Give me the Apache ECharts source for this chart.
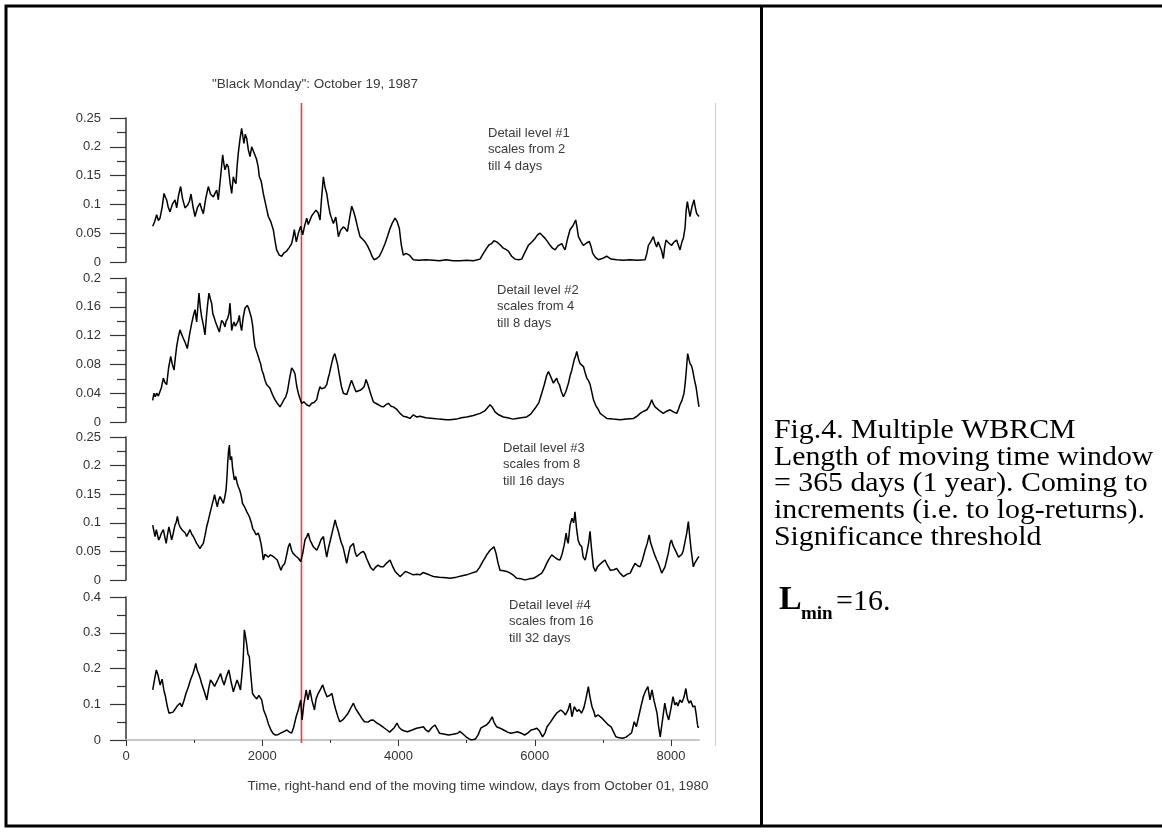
<!DOCTYPE html>
<html>
<head>
<meta charset="utf-8">
<title>Multiple WBRCM</title>
<script src="https://cdn.jsdelivr.net/npm/echarts@6/dist/echarts.min.js"></script>
<style>
html, body { margin: 0; padding: 0; background: #ffffff; }
#chart { width: 1162px; height: 832px; }
</style>
</head>
<body>
<div id="chart"></div>
<script>
// Day of the "Black Monday" crash, counted from October 01, 1980
const blackMondayDay = 2575;

// Detail level #1 (scales 2..4 days)
const level1Days = [392,420,450,475,499,530,558,580,597,620,646,680,719,744,770,802,830,866,900,930,954,985,1013,1050,1086,1110,1135,1170,1208,1240,1282,1310,1331,1355,1390,1419,1440,1453,1480,1502,1530,1551,1575,1595,1614,1630,1648,1675,1697,1715,1731,1750,1771,1795,1820,1845,1868,1895,1917,1940,1957,1985,2015,2050,2089,2125,2162,2190,2211,2250,2285,2320,2358,2395,2431,2455,2470,2500,2530,2564,2593,2620,2652,2675,2700,2725,2750,2789,2820,2848,2870,2897,2920,2946,2970,2995,3020,3044,3079,3100,3117,3150,3190,3220,3250,3280,3313,3340,3362,3400,3435,3470,3508,3545,3582,3610,3640,3680,3718,3760,3802,3840,3875,3910,3949,3980,4012,4040,4070,4110,4158,4217,4300,4400,4511,4600,4700,4800,4903,5000,5100,5196,5245,5294,5330,5367,5400,5440,5490,5538,5575,5612,5660,5710,5760,5808,5860,5906,5950,6004,6040,6077,6110,6151,6190,6224,6260,6298,6340,6396,6420,6445,6480,6517,6560,6600,6620,6640,6680,6713,6760,6800,6830,6850,6890,6933,6990,7055,7120,7202,7300,7400,7500,7618,7645,7667,7700,7740,7765,7789,7810,7838,7860,7887,7905,7926,7965,8009,8045,8082,8105,8131,8160,8180,8205,8222,8239,8260,8278,8305,8337,8355,8376,8395,8410];
const level1Values = [0.062,0.070,0.082,0.072,0.076,0.095,0.119,0.112,0.108,0.095,0.087,0.100,0.108,0.094,0.115,0.131,0.110,0.094,0.098,0.105,0.118,0.095,0.079,0.095,0.102,0.092,0.084,0.110,0.131,0.118,0.113,0.120,0.125,0.108,0.150,0.186,0.168,0.160,0.170,0.165,0.135,0.119,0.148,0.140,0.136,0.165,0.189,0.215,0.232,0.218,0.206,0.222,0.215,0.195,0.183,0.200,0.197,0.185,0.178,0.165,0.148,0.140,0.119,0.100,0.079,0.070,0.056,0.035,0.021,0.012,0.010,0.016,0.019,0.025,0.032,0.045,0.056,0.035,0.050,0.062,0.047,0.062,0.076,0.065,0.067,0.080,0.079,0.090,0.085,0.073,0.110,0.148,0.130,0.119,0.100,0.084,0.075,0.067,0.078,0.060,0.044,0.055,0.061,0.058,0.053,0.075,0.097,0.088,0.079,0.060,0.044,0.040,0.035,0.028,0.019,0.010,0.004,0.006,0.010,0.020,0.032,0.045,0.058,0.068,0.076,0.070,0.058,0.030,0.012,0.015,0.012,0.004,0.003,0.004,0.003,0.002,0.004,0.002,0.002,0.003,0.002,0.005,0.015,0.024,0.030,0.032,0.037,0.035,0.030,0.024,0.022,0.019,0.010,0.005,0.004,0.005,0.018,0.029,0.034,0.041,0.047,0.050,0.046,0.041,0.035,0.029,0.024,0.021,0.028,0.032,0.026,0.021,0.040,0.056,0.063,0.073,0.060,0.044,0.035,0.029,0.033,0.036,0.025,0.015,0.008,0.004,0.006,0.010,0.005,0.004,0.003,0.004,0.003,0.004,0.015,0.029,0.035,0.044,0.033,0.026,0.035,0.038,0.020,0.006,0.025,0.038,0.033,0.029,0.035,0.038,0.030,0.021,0.035,0.041,0.059,0.090,0.105,0.090,0.079,0.095,0.108,0.095,0.084,0.085,0.079];

// Detail level #2 (scales 4..8 days)
const level2Days = [392,410,430,450,475,499,520,548,570,597,625,656,680,705,725,744,768,793,815,842,870,900,930,964,990,1013,1037,1055,1071,1090,1110,1135,1159,1184,1200,1218,1240,1257,1275,1291,1310,1331,1350,1370,1390,1404,1430,1453,1470,1492,1510,1526,1540,1551,1570,1585,1605,1624,1645,1663,1680,1697,1720,1746,1765,1780,1800,1820,1840,1859,1875,1893,1918,1942,1960,1976,1995,2015,2040,2064,2090,2113,2150,2186,2220,2260,2290,2319,2345,2368,2400,2431,2455,2480,2505,2529,2555,2578,2610,2652,2690,2725,2760,2799,2825,2848,2870,2897,2920,2946,2965,2985,3015,3044,3065,3083,3105,3132,3160,3190,3215,3239,3265,3288,3310,3327,3350,3376,3405,3435,3465,3494,3510,3523,3550,3582,3605,3630,3665,3704,3740,3777,3815,3851,3890,3924,3970,4022,4070,4119,4168,4217,4265,4315,4400,4511,4600,4700,4756,4850,4920,5000,5100,5196,5260,5300,5343,5380,5416,5470,5538,5600,5680,5734,5800,5881,5940,6004,6028,6060,6102,6140,6175,6200,6225,6249,6273,6300,6322,6340,6361,6390,6420,6455,6494,6520,6543,6577,6600,6616,6640,6665,6690,6714,6740,6763,6790,6812,6840,6861,6900,6934,6959,7000,7057,7150,7253,7350,7449,7500,7547,7600,7645,7680,7716,7740,7765,7789,7840,7887,7935,7985,8035,8083,8110,8131,8160,8190,8205,8220,8235,8244,8260,8278,8300,8317,8340,8366,8395,8410];
const level2Values = [0.030,0.040,0.035,0.040,0.036,0.038,0.048,0.061,0.055,0.052,0.075,0.091,0.080,0.072,0.090,0.105,0.118,0.128,0.122,0.116,0.110,0.102,0.120,0.137,0.148,0.156,0.139,0.160,0.179,0.160,0.146,0.135,0.121,0.150,0.165,0.179,0.170,0.165,0.150,0.146,0.140,0.139,0.130,0.125,0.135,0.141,0.138,0.132,0.140,0.144,0.150,0.165,0.145,0.127,0.135,0.139,0.133,0.132,0.140,0.148,0.135,0.127,0.145,0.158,0.160,0.162,0.158,0.156,0.145,0.134,0.118,0.105,0.098,0.091,0.085,0.081,0.072,0.067,0.058,0.052,0.050,0.047,0.038,0.031,0.026,0.021,0.026,0.031,0.035,0.042,0.060,0.075,0.072,0.067,0.050,0.040,0.032,0.026,0.028,0.024,0.022,0.026,0.027,0.031,0.042,0.049,0.046,0.044,0.048,0.052,0.060,0.067,0.080,0.091,0.095,0.093,0.080,0.065,0.050,0.040,0.042,0.038,0.045,0.052,0.058,0.056,0.048,0.042,0.040,0.044,0.046,0.049,0.054,0.059,0.052,0.042,0.035,0.028,0.026,0.024,0.022,0.021,0.024,0.026,0.022,0.021,0.018,0.012,0.008,0.007,0.005,0.010,0.007,0.008,0.006,0.005,0.004,0.003,0.003,0.004,0.006,0.007,0.009,0.012,0.015,0.019,0.024,0.020,0.014,0.010,0.007,0.006,0.004,0.005,0.006,0.007,0.011,0.019,0.021,0.027,0.040,0.052,0.065,0.070,0.065,0.067,0.054,0.058,0.061,0.055,0.052,0.042,0.035,0.042,0.054,0.065,0.072,0.086,0.092,0.098,0.088,0.081,0.083,0.077,0.068,0.061,0.057,0.052,0.040,0.031,0.022,0.017,0.012,0.009,0.005,0.004,0.003,0.004,0.005,0.008,0.012,0.015,0.017,0.022,0.031,0.025,0.021,0.021,0.015,0.012,0.015,0.017,0.014,0.012,0.018,0.024,0.030,0.040,0.052,0.067,0.085,0.095,0.088,0.081,0.078,0.072,0.060,0.049,0.030,0.021];

// Detail level #3 (scales 8..16 days)
const level3Days = [392,410,426,445,460,480,500,520,548,570,590,610,630,650,670,690,719,735,754,775,793,820,845,870,891,915,940,965,989,1013,1037,1060,1086,1110,1135,1160,1184,1210,1233,1260,1282,1300,1320,1340,1360,1380,1405,1429,1450,1468,1482,1492,1505,1517,1530,1550,1565,1590,1610,1630,1648,1670,1690,1710,1740,1770,1810,1840,1860,1885,1908,1940,1960,1981,2000,2015,2040,2060,2090,2120,2162,2190,2220,2250,2274,2300,2330,2360,2382,2405,2430,2450,2490,2530,2564,2595,2627,2650,2676,2700,2725,2750,2775,2800,2830,2860,2897,2920,2946,2970,3000,3030,3050,3069,3090,3110,3135,3160,3185,3210,3239,3265,3290,3315,3337,3360,3385,3420,3450,3484,3510,3530,3560,3590,3630,3660,3700,3740,3777,3830,3875,3920,3950,3990,4022,4060,4100,4119,4160,4217,4270,4315,4360,4388,4430,4470,4511,4600,4700,4756,4850,4920,5000,5070,5147,5190,5235,5265,5294,5320,5343,5370,5401,5430,5460,5489,5540,5587,5640,5690,5734,5800,5857,5920,5979,6040,6102,6140,6175,6210,6249,6280,6310,6340,6370,6400,6430,6444,6460,6475,6490,6517,6545,6570,6590,6610,6635,6660,6689,6710,6740,6770,6790,6811,6830,6860,6890,6920,6960,7000,7030,7070,7110,7160,7202,7250,7300,7350,7400,7440,7471,7510,7545,7580,7618,7650,7679,7700,7720,7750,7790,7813,7840,7862,7890,7911,7935,7960,7985,8005,8030,8055,8083,8110,8131,8160,8180,8210,8230,8254,8275,8295,8327,8350,8376,8400,8410];
const level3Values = [0.096,0.085,0.076,0.088,0.085,0.070,0.075,0.082,0.088,0.075,0.064,0.080,0.093,0.082,0.070,0.080,0.096,0.100,0.111,0.098,0.093,0.088,0.090,0.082,0.076,0.082,0.088,0.080,0.076,0.070,0.064,0.060,0.055,0.060,0.064,0.078,0.093,0.105,0.117,0.130,0.140,0.149,0.138,0.128,0.140,0.146,0.140,0.134,0.145,0.157,0.180,0.204,0.225,0.236,0.210,0.216,0.195,0.175,0.181,0.170,0.163,0.157,0.148,0.134,0.128,0.120,0.111,0.100,0.090,0.085,0.079,0.082,0.075,0.064,0.050,0.035,0.045,0.047,0.040,0.044,0.041,0.038,0.035,0.025,0.017,0.025,0.029,0.045,0.058,0.064,0.052,0.047,0.042,0.038,0.032,0.047,0.070,0.075,0.082,0.070,0.064,0.058,0.060,0.052,0.060,0.070,0.076,0.058,0.040,0.055,0.070,0.085,0.095,0.105,0.095,0.088,0.076,0.065,0.058,0.045,0.029,0.045,0.058,0.060,0.064,0.050,0.041,0.045,0.048,0.050,0.045,0.038,0.030,0.022,0.017,0.022,0.026,0.023,0.023,0.030,0.035,0.022,0.015,0.010,0.006,0.010,0.015,0.015,0.012,0.009,0.010,0.009,0.013,0.015,0.010,0.008,0.006,0.005,0.004,0.003,0.005,0.007,0.009,0.012,0.015,0.022,0.032,0.038,0.044,0.048,0.052,0.055,0.058,0.047,0.030,0.017,0.016,0.015,0.012,0.008,0.003,0.002,0.000,0.002,0.003,0.007,0.012,0.020,0.029,0.037,0.044,0.041,0.038,0.036,0.035,0.045,0.060,0.070,0.082,0.070,0.064,0.096,0.108,0.100,0.119,0.093,0.070,0.062,0.058,0.040,0.035,0.052,0.065,0.085,0.058,0.023,0.015,0.023,0.028,0.032,0.035,0.025,0.017,0.018,0.020,0.012,0.006,0.010,0.012,0.022,0.029,0.025,0.023,0.035,0.052,0.064,0.079,0.065,0.058,0.047,0.035,0.029,0.020,0.012,0.018,0.023,0.035,0.047,0.064,0.070,0.060,0.058,0.047,0.040,0.038,0.045,0.052,0.070,0.082,0.102,0.075,0.052,0.023,0.030,0.032,0.040,0.041];

// Detail level #4 (scales 16..32 days)
const level4Days = [392,420,445,470,500,530,555,580,605,631,660,690,712,750,793,820,850,880,916,950,983,1005,1024,1045,1065,1090,1110,1150,1186,1210,1240,1270,1300,1321,1350,1388,1410,1440,1470,1509,1540,1576,1600,1630,1655,1680,1700,1720,1737,1750,1770,1790,1810,1830,1857,1890,1920,1950,1992,2020,2059,2090,2127,2160,2194,2230,2270,2300,2330,2362,2400,2430,2460,2497,2530,2564,2585,2610,2645,2670,2700,2730,2766,2790,2820,2850,2887,2920,2950,2990,3022,3050,3080,3110,3137,3180,3220,3260,3300,3338,3370,3400,3430,3459,3500,3550,3590,3627,3680,3728,3780,3830,3870,3896,3940,3977,4010,4050,4090,4130,4200,4265,4320,4366,4400,4440,4490,4534,4570,4600,4660,4736,4800,4870,4900,4924,4950,4990,5030,5072,5130,5170,5207,5250,5290,5330,5375,5400,5440,5490,5543,5600,5650,5700,5745,5800,5850,5900,5946,5990,6030,6070,6114,6150,6180,6230,6282,6320,6380,6420,6450,6490,6517,6545,6580,6620,6650,6685,6720,6750,6786,6810,6840,6870,6887,6930,6980,7035,7080,7120,7150,7190,7240,7290,7340,7380,7420,7459,7490,7530,7560,7593,7620,7660,7690,7720,7750,7794,7815,7841,7870,7908,7935,7965,8000,8029,8055,8080,8100,8130,8160,8190,8217,8240,8265,8290,8320,8350,8370,8392,8410];
const level4Values = [0.140,0.170,0.196,0.182,0.154,0.170,0.140,0.121,0.095,0.075,0.080,0.078,0.084,0.095,0.103,0.093,0.110,0.130,0.149,0.170,0.186,0.200,0.214,0.195,0.186,0.172,0.158,0.135,0.112,0.140,0.168,0.160,0.150,0.149,0.170,0.186,0.170,0.154,0.175,0.196,0.165,0.135,0.150,0.168,0.155,0.140,0.180,0.225,0.308,0.295,0.270,0.240,0.233,0.186,0.130,0.121,0.115,0.125,0.112,0.084,0.065,0.045,0.028,0.018,0.014,0.015,0.019,0.022,0.025,0.028,0.022,0.019,0.035,0.065,0.085,0.112,0.056,0.100,0.140,0.112,0.140,0.110,0.084,0.115,0.130,0.140,0.154,0.135,0.121,0.125,0.130,0.105,0.084,0.065,0.051,0.056,0.065,0.075,0.090,0.103,0.088,0.079,0.070,0.061,0.051,0.050,0.055,0.056,0.048,0.042,0.035,0.028,0.022,0.019,0.035,0.047,0.035,0.028,0.025,0.023,0.028,0.033,0.035,0.037,0.028,0.023,0.035,0.042,0.030,0.019,0.017,0.014,0.016,0.019,0.024,0.028,0.016,0.009,0.004,0.000,0.003,0.015,0.033,0.038,0.042,0.050,0.065,0.050,0.037,0.033,0.028,0.022,0.019,0.021,0.023,0.019,0.014,0.020,0.028,0.030,0.033,0.025,0.009,0.020,0.037,0.050,0.065,0.075,0.084,0.078,0.070,0.085,0.103,0.065,0.093,0.080,0.085,0.075,0.090,0.115,0.149,0.120,0.093,0.078,0.065,0.070,0.062,0.051,0.042,0.037,0.025,0.009,0.006,0.005,0.008,0.014,0.020,0.051,0.037,0.070,0.095,0.121,0.135,0.149,0.112,0.140,0.110,0.075,0.040,0.009,0.050,0.103,0.075,0.056,0.090,0.121,0.098,0.105,0.095,0.112,0.105,0.120,0.144,0.115,0.103,0.110,0.093,0.095,0.070,0.037,0.035];

// Axis tick values
const xMajorTicks = [0, 2000, 4000, 6000, 8000];
const xMinorTicks = [1000, 3000, 5000, 7000];
const yMaxima = [0.25, 0.2, 0.25, 0.4];
const yIntervals = [0.05, 0.04, 0.05, 0.1];

const series = [
  [level1Days, level1Values],
  [level2Days, level2Values],
  [level3Days, level3Values],
  [level4Days, level4Values]
];

const detailTexts = [
  'Detail level #1\nscales from 2\ntill 4 days',
  'Detail level #2\nscales from 4\ntill 8 days',
  'Detail level #3\nscales from 8\ntill 16 days',
  'Detail level #4\nscales from 16\ntill 32 days'
];

const captionLines = [
  'Fig.4. Multiple WBRCM',
  'Length of moving time window',
  '= 365 days (1 year). Coming to',
  'increments (i.e. to log-returns).',
  'Significance threshold'
];

// ---- layout ----
const X_MAX = 8410;
const PLOT_LEFT = 126;
const PLOT_WIDTH = 573;
const panelTops = [118, 278, 437, 597];
const panelHeights = [144, 144, 143, 143];
const detailPos = [[488, 133], [497, 290], [503, 448], [509, 605]];

const SANS = '"Liberation Sans", Arial, Helvetica, sans-serif';
const SERIF = '"Liberation Serif", "Times New Roman", Times, serif';
const AXIS_COLOR = '#333333';
const TEXT_COLOR = '#3a3a3a';
const CRASH_COLOR = '#f23a3a';

const grids = [];
const xAxes = [];
const yAxes = [];
const seriesList = [];

for (let i = 0; i < 4; i++) {
  grids.push({ left: PLOT_LEFT, width: PLOT_WIDTH, top: panelTops[i], height: panelHeights[i] });
  const isBottom = i === 3;
  xAxes.push({
    type: 'value', gridIndex: i, min: 0, max: X_MAX,
    show: isBottom,
    axisLine: { show: isBottom, onZero: false, lineStyle: { color: '#c8c8c8', width: 2 } },
    axisTick: { show: isBottom, customValues: xMajorTicks, length: 6, lineStyle: { color: AXIS_COLOR, width: 1 } },
    axisLabel: { show: isBottom, customValues: xMajorTicks, margin: 10, color: AXIS_COLOR, fontSize: 13,
                 fontFamily: SANS, formatter: v => String(v) },
    splitLine: { show: false }
  });
  yAxes.push({
    type: 'value', gridIndex: i, min: 0, max: yMaxima[i], interval: yIntervals[i],
    axisLine: { show: true, lineStyle: { color: AXIS_COLOR, width: 1.5 } },
    axisTick: { show: true, length: 16, lineStyle: { color: AXIS_COLOR, width: 1.2 } },
    minorTick: { show: true, splitNumber: 2, length: 9, lineStyle: { color: AXIS_COLOR, width: 1.2 } },
    axisLabel: { margin: 25, color: AXIS_COLOR, fontSize: 13, fontFamily: SANS },
    splitLine: { show: false }
  });
  const days = series[i][0];
  const vals = series[i][1];
  seriesList.push({
    type: 'line', xAxisIndex: i, yAxisIndex: i,
    data: days.map((d, k) => [d, vals[k]]),
    showSymbol: false, symbol: 'none',
    color: '#000000',
    lineStyle: { color: '#000000', width: 1.5 },
    silent: true
  });
}

// minor ticks on the time axis
xAxes.push({
  type: 'value', gridIndex: 3, min: 0, max: X_MAX, position: 'bottom',
  axisLine: { show: false },
  axisTick: { show: true, customValues: xMinorTicks, length: 3, lineStyle: { color: AXIS_COLOR, width: 1 } },
  axisLabel: { show: false },
  splitLine: { show: false }
});

// overlay grid carrying the crash marker across all panels
grids.push({ left: PLOT_LEFT, width: PLOT_WIDTH, top: 103, height: 640 });
xAxes.push({ type: 'value', gridIndex: 4, min: 0, max: X_MAX, show: false });
yAxes.push({ type: 'value', gridIndex: 4, min: 0, max: 1, show: false });
seriesList.push({
  type: 'line', xAxisIndex: 5, yAxisIndex: 4,
  data: [[blackMondayDay, 0], [blackMondayDay, 1]],
  showSymbol: false, symbol: 'none', silent: true, z: 1,
  color: CRASH_COLOR,
  lineStyle: { color: CRASH_COLOR, width: 1.6 }
});

// ---- texts and frame ----
const graphics = [];
graphics.push({
  type: 'rect', silent: true,
  shape: { x: 6, y: 6, width: 1170, height: 820 },
  style: { fill: 'none', stroke: '#000000', lineWidth: 3 }
});
graphics.push({
  type: 'line', silent: true,
  shape: { x1: 761.5, y1: 6, x2: 761.5, y2: 826 },
  style: { stroke: '#000000', lineWidth: 3 }
});
graphics.push({
  type: 'line', silent: true,
  shape: { x1: 715.5, y1: 103, x2: 715.5, y2: 746 },
  style: { stroke: '#d2d2d2', lineWidth: 1.2 }
});
graphics.push({
  type: 'text', silent: true, x: 315, y: 84,
  style: { text: '"Black Monday": October 19, 1987', fontSize: 13.5, fontFamily: SANS, fill: TEXT_COLOR,
           align: 'center', verticalAlign: 'middle', textAlign: 'center', textVerticalAlign: 'middle' }
});
graphics.push({
  type: 'text', silent: true, x: 478, y: 786,
  style: { text: 'Time, right-hand end of the moving time window, days from October 01, 1980', fontSize: 13.5,
           fontFamily: SANS, fill: TEXT_COLOR, align: 'center', verticalAlign: 'middle',
           textAlign: 'center', textVerticalAlign: 'middle' }
});
detailTexts.forEach((t, i) => {
  graphics.push({
    type: 'text', silent: true, x: detailPos[i][0], y: detailPos[i][1] - 8.25,
    style: { text: t, fontSize: 13, lineHeight: 16.5, fontFamily: SANS, fill: TEXT_COLOR,
             align: 'left', verticalAlign: 'top', textAlign: 'left', textVerticalAlign: 'top' }
  });
});
// caption: the serif text is set slightly wide
const CAPTION_STRETCH = 1.065;
captionLines.forEach((t, i) => {
  graphics.push({
    type: 'text', silent: true, x: 774, y: 430.5 + i * 26.7, scaleX: CAPTION_STRETCH,
    style: { text: t, fontSize: 28, fontFamily: SERIF, fill: '#000000',
             align: 'left', verticalAlign: 'middle', textAlign: 'left', textVerticalAlign: 'middle' }
  });
});
graphics.push({
  type: 'text', silent: true, x: 779, y: 600.5,
  style: { text: 'L', fontSize: 34, fontWeight: 'bold', fontFamily: SERIF, fill: '#000000',
           align: 'left', verticalAlign: 'middle', textAlign: 'left', textVerticalAlign: 'middle' }
});
graphics.push({
  type: 'text', silent: true, x: 801, y: 614.5,
  style: { text: 'min', fontSize: 19, fontWeight: 'bold', fontFamily: SERIF, fill: '#000000',
           align: 'left', verticalAlign: 'middle', textAlign: 'left', textVerticalAlign: 'middle' }
});
graphics.push({
  type: 'text', silent: true, x: 836, y: 602,
  style: { text: '=16.', fontSize: 30, fontFamily: SERIF, fill: '#000000',
           align: 'left', verticalAlign: 'middle', textAlign: 'left', textVerticalAlign: 'middle' }
});

const chart = echarts.init(document.getElementById('chart'), null, { renderer: 'canvas' });
chart.setOption({
  animation: false,
  backgroundColor: '#ffffff',
  grid: grids,
  xAxis: xAxes,
  yAxis: yAxes,
  series: seriesList,
  graphic: graphics
});
</script>
</body>
</html>
